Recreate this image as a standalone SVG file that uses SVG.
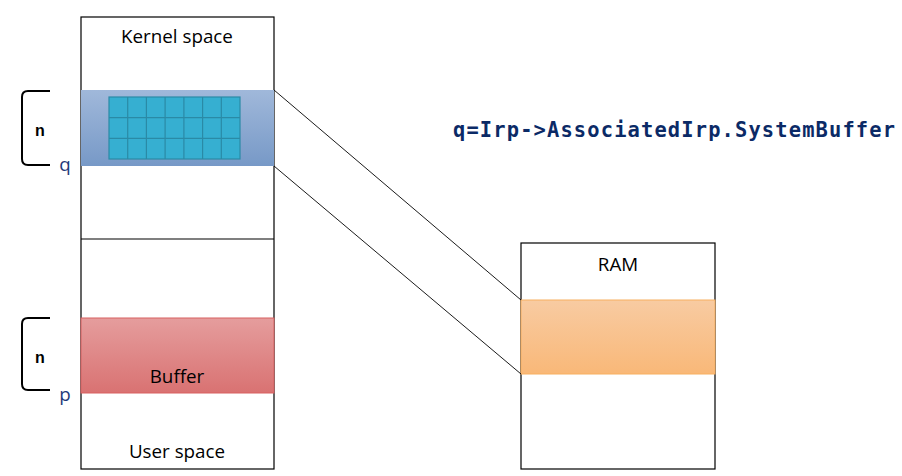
<svg xmlns="http://www.w3.org/2000/svg" width="902" height="476" viewBox="0 0 902 476">
<defs>
<linearGradient id="gBlue" x1="0" y1="0" x2="0" y2="1"><stop offset="0" stop-color="#a0b8da"/><stop offset="1" stop-color="#7799c7"/></linearGradient>
<linearGradient id="gRed" x1="0" y1="0" x2="0" y2="1"><stop offset="0" stop-color="#e59d9d"/><stop offset="1" stop-color="#d97272"/></linearGradient>
<linearGradient id="gOrange" x1="0" y1="0" x2="0" y2="1"><stop offset="0" stop-color="#f8cba2"/><stop offset="1" stop-color="#f9b878"/></linearGradient>
</defs>
<style>
.box{fill:#fff;stroke:#000;stroke-width:1.2}
.lbl{font-family:"Open Sans","Liberation Sans",sans-serif;font-size:18.8px;fill:#000;text-anchor:middle}
.br{fill:none;stroke:#000;stroke-width:2}
.n{font-family:"Liberation Sans",sans-serif;font-weight:bold;font-size:16px;fill:#000;text-anchor:middle}
.ptr{font-family:"Open Sans","Liberation Sans",sans-serif;font-size:18.8px;fill:#1f3a7a;text-anchor:middle}
.cell{fill:#36afd1;stroke:#2a8aa6;stroke-width:1.2}
.conn{stroke:#000;stroke-width:0.9;fill:none}
</style>
<g id="memory">
<rect class="box" x="81" y="17" width="193" height="452"/>
<line x1="81" y1="239" x2="274" y2="239" stroke="#000" stroke-width="1.2"/>
<text class="lbl" x="177" y="43">Kernel space</text>
<text class="lbl" x="177" y="458">User space</text>
</g>
<g id="systembuffer">
<rect x="81" y="90" width="193" height="76" fill="url(#gBlue)"/>
<g id="grid">
<rect class="cell" x="109" y="97" width="131" height="62"/>
<path d="M127.7 97V159M146.4 97V159M165.1 97V159M183.9 97V159M202.6 97V159M221.3 97V159M109 117.7H240M109 138.3H240" stroke="#2a8aa6" stroke-width="1.2" fill="none"/>
</g>
</g>
<g id="userbuffer">
<rect x="81" y="318" width="193" height="75" fill="url(#gRed)" stroke="#d86060" stroke-width="1"/>
<text class="lbl" x="177" y="383">Buffer</text>
</g>
<g id="bracket-q">
<path class="br" d="M50 91H28Q22 91 22 97V159Q22 165 28 165H50"/>
<text class="n" x="40" y="136">n</text>
<text class="ptr" x="65" y="171">q</text>
</g>
<g id="bracket-p">
<path class="br" d="M50 318H28Q22 318 22 324V384Q22 390 28 390H50"/>
<text class="n" x="40" y="363">n</text>
<text class="ptr" x="65" y="401">p</text>
</g>
<g id="ram">
<rect class="box" x="521" y="243" width="194" height="226"/>
<rect x="521" y="300" width="194" height="74" fill="url(#gOrange)" stroke="#f8b060" stroke-width="1"/>
<text class="lbl" x="618" y="271">RAM</text>
</g>
<g id="code">
<text x="453" y="137" font-family="'DejaVu Sans Mono','Liberation Mono',monospace" font-weight="bold" font-size="20.4" fill="#0b2a66" textLength="442">q=Irp-&gt;AssociatedIrp.SystemBuffer</text>
</g>
<g id="connectors">
<line class="conn" x1="274" y1="90" x2="521" y2="300"/>
<line class="conn" x1="274" y1="166" x2="521" y2="374"/>
</g>
</svg>
